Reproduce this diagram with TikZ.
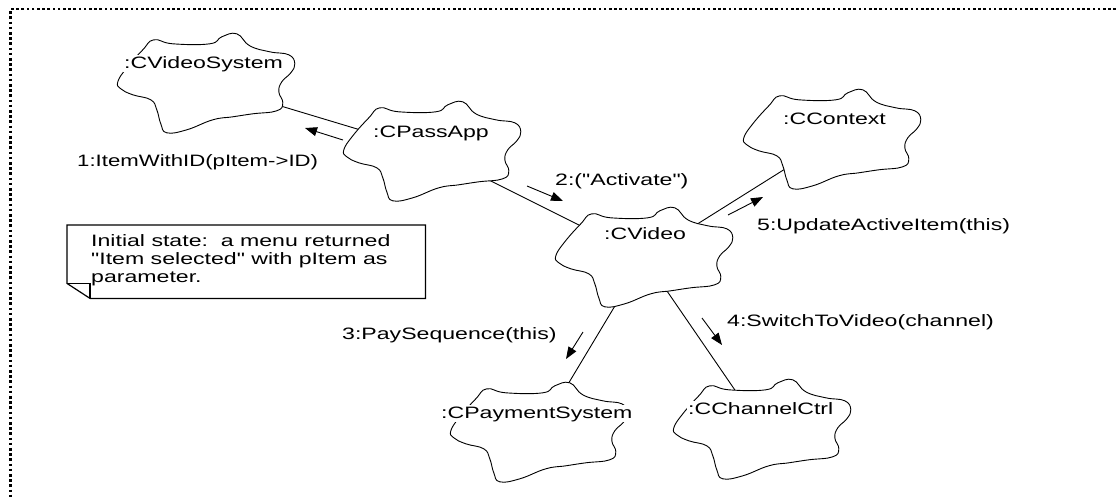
\documentclass[tikz,border=0pt]{standalone}
\usepackage{fontspec}
\setmainfont{Liberation Sans}[FakeStretch=1.4, Ligatures=TeXOff]
\usetikzlibrary{arrows.meta,calc}
\newcommand{\objcloud}[1]{%
  \path[cloudline, shift={(#1.north west)}] plot[smooth cycle, tension=0.75] coordinates {(1,48) (10,34) (26,16) (37,6) (56,10) (93,10) (105,3) (120,0) (133,12) (153,18) (172,21) (178,30) (174,39) (165,48) (162,58) (166,69) (160,77) (136,80) (116,83) (96,86) (70,96) (50,99) (44,90) (40,76) (34,66) (16,61) (4,55)};}
\begin{document}
\begin{tikzpicture}[x=1pt,y=-1pt,
  txt/.style={font=\fontsize{16.5}{18.5}\selectfont, inner sep=0pt},
  objlabel/.style={txt, fill=white, inner sep=1pt, anchor=base west},
  msglabel/.style={txt, anchor=base west},
  cloudbox/.style={draw=none, minimum width=178pt, minimum height=99pt, inner sep=0pt},
  cloudline/.style={draw=black, fill=white, line width=0.9pt},
  assoc/.style={draw=black, line width=0.9pt},
  msg/.style={draw=black, line width=0.9pt, -{Triangle[length=12pt,width=9pt]}},
  border/.style={line width=2.6pt, dash pattern=on 2.6pt off 2.6pt},
  notebox/.style={draw=black, line width=1.2pt}]
\useasboundingbox (0,0) rectangle (1116,499);
% outer dotted frame
\draw[border] (1116,9) -- (10.5,9) -- (10.5,499);
% cloud anchors
\node[cloudbox] (cvs)  at (206,83.5) {};
\node[cloudbox] (cpa)  at (432,151.5) {};
\node[cloudbox] (cv)   at (644,257.5) {};
\node[cloudbox] (cctx) at (832,139.5) {};
\node[cloudbox] (cpay) at (539,432.5) {};
\node[cloudbox] (cch)  at (762,429.5) {};
% links
\draw[assoc] (cvs.center) -- (cpa.center);
\draw[assoc] (cpa.center) -- (cv.center);
\draw[assoc] (cv.center) -- (cctx.center);
\draw[assoc] (cv.center) -- (cpay.center);
\draw[assoc] (cv.center) -- (cch.center);
% clouds
\objcloud{cvs}
\objcloud{cpa}
\objcloud{cv}
\objcloud{cctx}
\objcloud{cpay}
\objcloud{cch}
% object names
\node[objlabel] (tcvs)  at (123,68)  {:CVideoSystem};
\node[objlabel] (tcpa)  at (372,137) {:CPassApp};
\node[objlabel] (tcv)   at (603,239) {:CVideo};
\node[objlabel] (tcctx) at (782,124) {:CContext};
\node[objlabel] (tcpay) at (440,418) {:CPaymentSystem};
\node[objlabel] (tcch)  at (687,414) {:CChannelCtrl};
% messages
\coordinate (m1a) at (343,140); \coordinate (m1b) at (305,128);
\coordinate (m2a) at (527,186); \coordinate (m2b) at (563,201);
\coordinate (m5a) at (728,215); \coordinate (m5b) at (763,197);
\coordinate (m3a) at (583,332); \coordinate (m3b) at (566,359);
\coordinate (m4a) at (702,318); \coordinate (m4b) at (722,345);
\draw[msg] (m1a) -- (m1b);
\draw[msg] (m2a) -- (m2b);
\draw[msg] (m5a) -- (m5b);
\draw[msg] (m3a) -- (m3b);
\draw[msg] (m4a) -- (m4b);
\node[msglabel] (l1) at (77,166)  {\scalebox{0.96}[1]{1:ItemWithID(pItem->ID)}};
\node[msglabel] (l2) at (555,185) {2:("Activate")};
\node[msglabel] (l5) at (757,230) {5:UpdateActiveItem(this)};
\node[msglabel] (l3) at (342,339) {3:PaySequence(this)};
\node[msglabel] (l4) at (727,326) {4:SwitchToVideo(channel)};
% note
\node[draw=none, inner sep=0pt, minimum width=358pt, minimum height=73pt, anchor=north west] (note) at (67,225) {};
\draw[notebox] (note.north west) -- (note.north east) -- (note.south east) -- ($(note.south west)+(23,0)$) -- ($(note.south west)+(0,-15)$) -- cycle;
\draw[notebox] ($(note.south west)+(0,-15)$) -- ($(note.south west)+(23,-15)$) -- ($(note.south west)+(23,0)$);
\node[msglabel] (n1) at (91,246) {Initial state:\ \ a menu returned};
\node[msglabel] (n2) at (91,264) {"Item selected" with pItem as};
\node[msglabel] (n3) at (91,282) {parameter.};
\end{tikzpicture}
\end{document}
